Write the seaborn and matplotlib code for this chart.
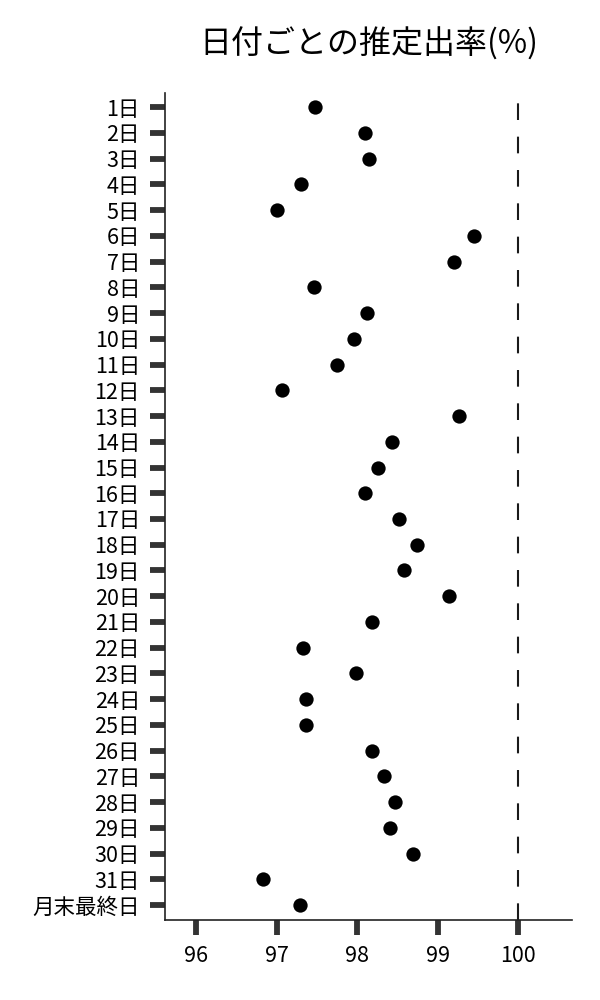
import matplotlib
matplotlib.use("Agg")
import matplotlib.pyplot as plt
import pandas as pd
import seaborn as sns

# Data
days = [f"{i}日" for i in range(1, 32)] + ["月末最終日"]
rates = [97.48, 98.10, 98.15, 97.30, 97.00, 99.45, 99.20, 97.46, 98.12, 97.96,
         97.75, 97.07, 99.27, 98.43, 98.26, 98.10, 98.52, 98.74, 98.58, 99.14,
         98.19, 97.33, 97.99, 97.37, 97.36, 98.18, 98.33, 98.47, 98.41, 98.69,
         96.83, 97.29]
x_ticks = [96, 97, 98, 99, 100]
target = 100

df = pd.DataFrame({"day": days, "rate": rates})

sns.set_style("white")
plt.rcParams['font.family'] = ['Noto Sans CJK JP', 'DejaVu Sans']
plt.rcParams['text.color'] = 'black'
plt.rcParams['xtick.color'] = 'black'
plt.rcParams['ytick.color'] = 'black'

fig = plt.figure(figsize=(6, 10), dpi=100)
ax = fig.add_axes([0.275, 0.08, 0.678, 0.827])

sns.stripplot(data=df, x="rate", y="day", order=days, jitter=False,
              color="black", size=10.3, linewidth=0, ax=ax)
ax.axvline(target, color="#1a1a1a", linestyle=(0, (8, 8)), linewidth=1.5)

ax.set_xlim(95.61, 100.67)
ax.set_ylim(len(days) - 0.42, -0.55)
ax.set_xticks(x_ticks)
ax.set_xticklabels([str(t) for t in x_ticks])
ax.set_xlabel("")
ax.set_ylabel("")
ax.set_title("日付ごとの推定出率(%)", fontsize=23, pad=28, color="black")

ax.tick_params(axis="both", which="major", bottom=True, left=True,
               length=11, width=4.2, color="#333333", labelcolor="black",
               labelsize=15.5, direction="out")
ax.tick_params(axis="y", pad=7)
ax.tick_params(axis="x", pad=7)

for side in ["top", "right"]:
    ax.spines[side].set_visible(False)
for side in ["left", "bottom"]:
    ax.spines[side].set_color("#222222")
    ax.spines[side].set_linewidth(1.2)

fig.savefig("out.png", dpi=100)
